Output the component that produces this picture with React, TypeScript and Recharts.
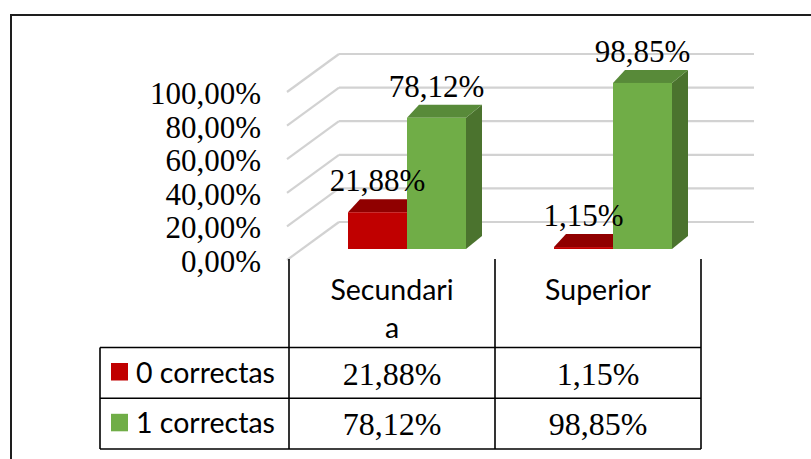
import React from 'react';
import { BarChart, Bar, XAxis, YAxis, CartesianGrid } from 'recharts';

// ---- data ----
const categories = ['Secundaria', 'Superior'];
const categoryLabelLines = [['Secundari', 'a'], ['Superior']];
const seriesNames = ['0 correctas', '1 correctas'];
const values0 = [21.88, 1.15];
const values1 = [78.12, 98.85];
const yTicks = [0, 20, 40, 60, 80, 100];

const data = categories.map((c, i) => ({ category: c, s0: values0[i], s1: values1[i] }));
const seriesValues = [values0, values1];

// ---- style / layout ----
const palette = [
  { front: '#C00000', top: '#900000', side: '#780000' },
  { front: '#70AD47', top: '#588A39', side: '#4B732E' },
];
const W = 811;
const H = 459;
const PLOT_LEFT = 289;
const PLOT_RIGHT = 701;
const PLOT_TOP = 81;
const PLOT_BOTTOM = 249;
const Y_AXIS_W = 60;
const X_AXIS_H = 200;
const SHIFT = 15; // perspective shift of bars
const DX = 16;
const DXL = 12;
const DY = -13;
const SERIF = '"Liberation Serif", "Times New Roman", serif';
const SANS = 'Lato, "Open Sans", sans-serif';

const fmt = (v: number) => v.toFixed(2).replace('.', ',') + '%';

const makeShape = (c: { front: string; top: string; side: string }) => (p: any) => {
  const x = p.x + SHIFT;
  const y = p.y;
  const w = p.width;
  const h = p.height;
  if (w == null || h == null) return <g />;
  return (
    <g>
      <polygon
        points={`${x + w},${y} ${x + w + DX},${y + DY} ${x + w + DX},${y + h + DY} ${x + w},${y + h}`}
        fill={c.side}
      />
      <polygon
        points={`${x},${y} ${x + w},${y} ${x + w + DX},${y + DY} ${x + DXL},${y + DY}`}
        fill={c.top}
      />
      <rect x={x} y={y} width={w} height={h} fill={c.front} />
    </g>
  );
};

const renderLabel = (p: any) => {
  const x = p.x + SHIFT + p.width / 2;
  return (
    <text
      key={`lbl-${p.index}-${p.value}`}
      x={x}
      y={p.y - 21}
      textAnchor="middle"
      fontFamily={SERIF}
      fontSize={31}
      fill="#000"
    >
      {fmt(Number(p.value))}
    </text>
  );
};

const GridLine = (p: any) => {
  const y = p.y1;
  const backY = y - 27;
  const frontY = y + 11;
  return (
    <g key={`grid-${p.index}-${y}`}>
      <line x1={p.x1 - 2} y1={frontY} x2={p.x1 + 50} y2={backY} stroke="#D2D2D2" strokeWidth={2.2} />
      <line x1={p.x1 + 50} y1={backY} x2={p.x2 + 53} y2={backY} stroke="#D2D2D2" strokeWidth={2.2} />
    </g>
  );
};

const YTick = (p: any) => (
  <text
    x={261}
    y={p.y + 23}
    textAnchor="end"
    fontFamily={SERIF}
    fontSize={31}
    fill="#000"
  >
    {fmt(Number(p.payload.value))}
  </text>
);

const HEADER_TOP = 259;
const ROW1_TOP = 347.5;
const ROW2_TOP = 398.3;
const TABLE_BOTTOM = 449;
const TABLE_LEFT = 100;
const HALF_COL = (PLOT_RIGHT - PLOT_LEFT) / categories.length / 2;

const TableTick = (p: any) => {
  const idx = p.payload?.index ?? p.index ?? 0;
  const cx = p.x;
  const lineProps = { stroke: '#000', strokeWidth: 1.6 };
  const lines = categoryLabelLines[idx] || [String(p.payload.value)];
  return (
    <g>
      {idx === 0 && (
        <g>
          <line x1={cx - HALF_COL} y1={HEADER_TOP} x2={cx - HALF_COL} y2={TABLE_BOTTOM} {...lineProps} />
          <line x1={TABLE_LEFT} y1={ROW1_TOP} x2={TABLE_LEFT} y2={TABLE_BOTTOM} {...lineProps} />
          {[ROW1_TOP, ROW2_TOP, TABLE_BOTTOM].map((ry) => (
            <line key={ry} x1={TABLE_LEFT} y1={ry} x2={PLOT_RIGHT} y2={ry} {...lineProps} />
          ))}
          {seriesNames.map((name, si) => {
            const top = si === 0 ? ROW1_TOP : ROW2_TOP;
            return (
              <g key={name}>
                <rect x={111} y={top + 15.5} width={17} height={17.5} fill={palette[si].front} />
                <text x={136} y={top + 35} fontFamily={SANS} fontSize={28.5} fill="#000">
                  {name}
                </text>
              </g>
            );
          })}
        </g>
      )}
      <line x1={cx + HALF_COL} y1={HEADER_TOP} x2={cx + HALF_COL} y2={TABLE_BOTTOM} {...lineProps} />
      {lines.map((t: string, li: number) => (
        <text
          key={li}
          x={cx}
          y={300 + li * 38}
          textAnchor="middle"
          fontFamily={SANS}
          fontSize={28.5}
          fill="#000"
        >
          {t}
        </text>
      ))}
      {seriesValues.map((vals, si) => (
        <text
          key={si}
          x={cx}
          y={(si === 0 ? ROW1_TOP : ROW2_TOP) + 37}
          textAnchor="middle"
          fontFamily={SERIF}
          fontSize={32}
          fill="#000"
        >
          {fmt(vals[idx])}
        </text>
      ))}
    </g>
  );
};

export default function App() {
  return (
    <div
      style={{
        position: 'absolute',
        left: 0,
        top: 0,
        width: W,
        height: H,
        overflow: 'hidden',
        background: '#fff',
      }}
    >
      <div
        style={{
          position: 'absolute',
          left: 10,
          top: 14,
          width: 840,
          height: 480,
          border: '2px solid #1e1e1e',
          boxSizing: 'border-box',
        }}
      />
      <div style={{ position: 'absolute', left: 0, top: 0 }}>
        <BarChart
          width={W}
          height={H}
          data={data}
          margin={{
            top: PLOT_TOP,
            right: W - PLOT_RIGHT,
            left: PLOT_LEFT - Y_AXIS_W,
            bottom: H - PLOT_BOTTOM - X_AXIS_H,
          }}
          barGap={0}
          barCategoryGap={0}
        >
          <CartesianGrid vertical={false} horizontal={GridLine} />
          <XAxis
            dataKey="category"
            axisLine={false}
            tickLine={false}
            height={X_AXIS_H}
            interval={0}
            tick={TableTick}
          />
          <YAxis
            domain={[0, 100]}
            ticks={yTicks}
            axisLine={false}
            tickLine={false}
            width={Y_AXIS_W}
            interval={0}
            tick={YTick}
          />
          <Bar
            dataKey="s0"
            name={seriesNames[0]}
            barSize={59}
            fill={palette[0].front}
            shape={makeShape(palette[0])}
            label={renderLabel}
            isAnimationActive={false}
          />
          <Bar
            dataKey="s1"
            name={seriesNames[1]}
            barSize={59}
            fill={palette[1].front}
            shape={makeShape(palette[1])}
            label={renderLabel}
            isAnimationActive={false}
          />
        </BarChart>
      </div>
    </div>
  );
}
